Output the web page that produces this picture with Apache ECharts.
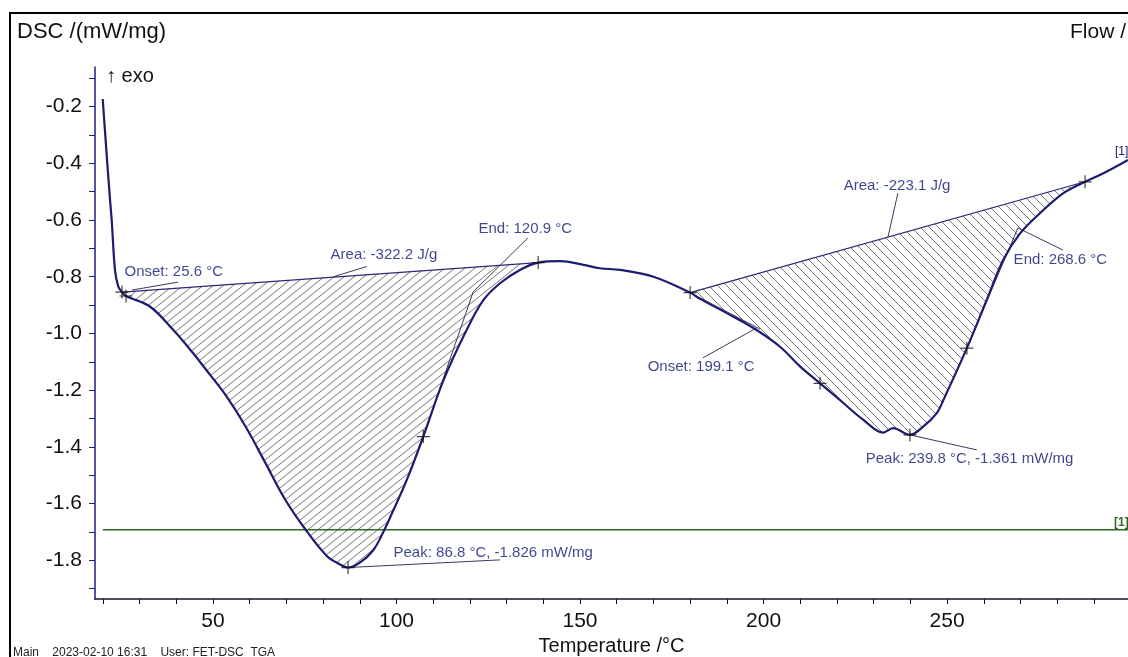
<!DOCTYPE html>
<html>
<head>
<meta charset="utf-8">
<title>DSC</title>
<script src="https://cdn.jsdelivr.net/npm/echarts@6.0.0/dist/echarts.min.js"></script>
<style>
html, body { margin: 0; padding: 0; background: #fff; }
#chart { width: 1128px; height: 657px; }
</style>
</head>
<body>
<div id="chart"></div>
<script>
// DSC signal: temperature (°C) and DSC (mW/mg)
var dscTemp = [19.95, 21.2, 21.95, 22.4, 23.3, 24.2, 25.2, 26.3, 32.8, 39.2, 44.6, 47.8, 53.3, 58.7, 64.2, 69.6,
	75.1, 81.0, 84.6, 86.8, 90.1, 93.7, 96.4, 99.1, 102.8, 107.3, 112.8, 119.1, 123.7, 128.2, 133.6, 138.6,
	144.6, 150.9, 155.4, 160.9, 170.0, 180.0, 182.7, 191.8, 198.1, 204.5, 210.0, 215.4, 220.8, 227.2, 232.6,
	235.3, 239.9, 243.5, 247.2, 249.0, 255.4, 260.8, 265.3, 269.9, 275.3, 281.7, 287.6, 292.6, 299.3];
var dscValue = [-0.173, -0.400, -0.529, -0.600, -0.777, -0.835, -0.854, -0.868, -0.905, -0.988, -1.070, -1.123, -1.215, -1.325, -1.455, -1.585,
	-1.690, -1.785, -1.815, -1.826, -1.808, -1.764, -1.701, -1.625, -1.517, -1.364, -1.165, -0.988, -0.882, -0.823, -0.776, -0.750,
	-0.745, -0.758, -0.770, -0.776, -0.800, -0.856, -0.878, -0.941, -0.988, -1.047, -1.117, -1.176, -1.235, -1.305, -1.350,
	-1.334, -1.358, -1.329, -1.281, -1.235, -1.052, -0.882, -0.741, -0.647, -0.576, -0.505, -0.465, -0.435, -0.388];

// flow signal (drawn flat)
var flowTemp = [20, 299.3];
var flowValue = [-1.693, -1.693];

// integration ranges (start T, end T) of the two peaks
var peakStart = [25.2, 180.0];
var peakEnd = [138.6, 287.6];

// evaluation marks "+"
var crossTemp = [25.2, 26.3, 86.8, 107.3, 138.6, 180.0, 215.4, 239.9, 255.4, 287.6];
var crossValue = [-0.854, -0.868, -1.826, -1.364, -0.750, -0.856, -1.176, -1.358, -1.052, -0.465];

// annotation texts and where they sit (T, DSC of the left/middle of the text)
var labelText = ['Onset: 25.6 °C', 'Area: -322.2 J/g', 'End: 120.9 °C', 'Peak: 86.8 °C, -1.826 mW/mg',
	'Onset: 199.1 °C', 'Area: -223.1 J/g', 'End: 268.6 °C', 'Peak: 239.8 °C, -1.361 mW/mg'];
var labelTemp = [25.75, 81.9, 122.2, 99.05, 168.3, 221.7, 268.0, 227.7];
var labelValue = [-0.783, -0.723, -0.631, -1.775, -1.118, -0.480, -0.741, -1.443];

// leader + tangent lines: [T1, V1, T2, V2]
var guideLines = [
	[40.5, -0.819, 27.9, -0.847],
	[91.9, -0.764, 82.8, -0.800],
	[120.9, -0.853, 135.8, -0.663],
	[107.3, -1.364, 120.9, -0.853],
	[86.8, -1.826, 128.2, -1.799],
	[183.5, -1.086, 198.2, -0.980],
	[180.0, -0.856, 199.1, -0.985],
	[236.6, -0.505, 233.9, -0.660],
	[255.4, -1.052, 269.3, -0.628],
	[269.3, -0.628, 281.6, -0.706],
	[239.9, -1.358, 258.1, -1.411]
];
// baselines of the integrations
var baseLines = [
	[25.2, -0.854, 138.6, -0.750],
	[180.0, -0.856, 287.6, -0.465]
];

// axis ticks and labels
var xTickValues = [20, 30, 40, 50, 60, 70, 80, 90, 100, 110, 120, 130, 140, 150, 160, 170, 180, 190, 200, 210, 220, 230, 240, 250, 260, 270, 280, 290];
var xLabelValues = [50, 100, 150, 200, 250];
var yTickValues = [-1.9, -1.8, -1.7, -1.6, -1.5, -1.4, -1.3, -1.2, -1.1, -1.0, -0.9, -0.8, -0.7, -0.6, -0.5, -0.4, -0.3, -0.2, -0.1];
var yLabelValues = [-1.8, -1.6, -1.4, -1.2, -1.0, -0.8, -0.6, -0.4, -0.2];

var FONT = '"Liberation Sans", Arial, sans-serif';
var NAVY = '#1c1c70';
var TXT = '#0e1672';

function zip(a, b) {
	var res = [];
	for (var i = 0; i < a.length; i++) res.push([a[i], b[i]]);
	return res;
}
function segs(list) {
	return list.map(function (s) { return { coords: [[s[0], s[1]], [s[2], s[3]]] }; });
}

// hatch pattern, dir 1 = '/', -1 = '\'
function hatch(w, h, dir) {
	var c = document.createElement('canvas');
	c.width = w; c.height = h;
	var g = c.getContext('2d');
	g.strokeStyle = '#555';
	g.lineWidth = 0.8;
	g.beginPath();
	[-w, 0, w].forEach(function (o) {
		if (dir > 0) {
			g.moveTo(o - w, 2 * h); g.lineTo(o + 2 * w, -h);
		} else {
			g.moveTo(o - w, -h); g.lineTo(o + 2 * w, 2 * h);
		}
	});
	g.stroke();
	return c;
}
var patterns = [hatch(10, 8, 1), hatch(9, 9, -1)];

var curve = zip(dscTemp, dscValue);

var chart = echarts.init(document.getElementById('chart'));

var option = {
	backgroundColor: '#fff',
	animation: false,
	grid: { left: 95, right: 0, top: 67, bottom: 58, containLabel: false, outerBoundsMode: 'none' },
	xAxis: {
		type: 'value',
		min: 17.85,
		max: 299.3,
		name: 'Temperature /°C',
		nameLocation: 'middle',
		nameGap: 35,
		nameTextStyle: { fontSize: 20, color: '#111', fontFamily: FONT },
		axisLine: { lineStyle: { color: '#101030', width: 1.5 } },
		axisTick: { length: 5, customValues: xTickValues, lineStyle: { color: '#101030' } },
		axisLabel: { customValues: xLabelValues, fontSize: 21, color: '#111', fontFamily: FONT, margin: 12 },
		splitLine: { show: false }
	},
	yAxis: {
		type: 'value',
		min: -1.937,
		max: -0.06,
		axisLine: { show: true, lineStyle: { color: '#1f1f80', width: 1.5 } },
		axisTick: { show: true, length: 6, customValues: yTickValues, lineStyle: { color: '#1f1f80' } },
		axisLabel: {
			customValues: yLabelValues, fontSize: 21, color: '#111', fontFamily: FONT, margin: 13,
			formatter: function (v) { return v.toFixed(1); }
		},
		splitLine: { show: false }
	},
	graphic: [
		{ type: 'rect', shape: { x: 10, y: 13, width: 1140, height: 680 }, style: { fill: 'none', stroke: '#000', lineWidth: 2 }, z: 100 },
		{ type: 'text', x: 17, y: 32, style: { text: 'DSC /(mW/mg)', font: '22px ' + FONT, fill: '#111', verticalAlign: 'middle' } },
		{ type: 'text', x: 1070, y: 32, style: { text: 'Flow /', font: '21px ' + FONT, fill: '#111', verticalAlign: 'middle' } },
		{ type: 'text', x: 106, y: 76, style: { text: '\u2191 exo', font: '20px ' + FONT, fill: '#111', verticalAlign: 'middle' } },
		{ type: 'text', x: 1115, y: 152, style: { text: '[1]', font: '12px ' + FONT, fill: TXT, verticalAlign: 'middle' } },
		{ type: 'text', x: 1114, y: 523, style: { text: '[1]', font: 'bold 12px ' + FONT, fill: '#2d6a1e', verticalAlign: 'middle' } },
		{ type: 'text', x: 13, y: 647, style: { text: 'Main    2023-02-10 16:31    User: FET-DSC_TGA', font: '12px ' + FONT, fill: '#222', verticalAlign: 'top' } }
	],
	series: [
		{
			// hatched peak areas between curve and baseline
			type: 'custom',
			z: 1,
			silent: true,
			encode: { x: [0, 1], y: 2 },
			data: [[peakStart[0], peakEnd[0], -0.854], [peakStart[1], peakEnd[1], -0.856]],
			renderItem: function (params, api) {
				var a = api.value(0), b = api.value(1);
				var pts = [];
				for (var i = 0; i < curve.length; i++) {
					if (curve[i][0] >= a - 1e-6 && curve[i][0] <= b + 1e-6) pts.push(api.coord(curve[i]));
				}
				return {
					type: 'polygon',
					shape: { points: pts },
					style: { fill: { image: patterns[params.dataIndex], repeat: 'repeat' }, stroke: null }
				};
			}
		},
		{
			type: 'line',
			name: 'Flow',
			data: zip(flowTemp, flowValue),
			showSymbol: false,
			lineStyle: { color: '#2d6a1e', width: 1.5 },
			z: 2
		},
		{
			type: 'lines',
			coordinateSystem: 'cartesian2d',
			data: segs(baseLines),
			lineStyle: { color: '#2a2a72', width: 1.2, opacity: 1, curveness: 0 },
			silent: true,
			z: 3
		},
		{
			type: 'lines',
			coordinateSystem: 'cartesian2d',
			data: segs(guideLines),
			lineStyle: { color: '#3a3a5e', width: 1, opacity: 1, curveness: 0 },
			silent: true,
			z: 3
		},
		{
			type: 'line',
			name: 'DSC',
			data: curve,
			showSymbol: false,
			smooth: 0.35,
			lineStyle: { color: NAVY, width: 2.2 },
			z: 5
		},
		{
			type: 'scatter',
			data: zip(crossTemp, crossValue),
			symbol: 'path://M0,7L14,7M7,0L7,14',
			symbolSize: 13,
			itemStyle: { color: 'rgba(0,0,0,0)', borderColor: '#111', borderWidth: 1.2 },
			z: 6
		},
		{
			type: 'scatter',
			data: labelTemp.map(function (t, i) { return [t, labelValue[i], labelText[i]]; }),
			symbolSize: 1,
			itemStyle: { color: 'rgba(0,0,0,0)' },
			label: {
				show: true,
				position: 'right',
				distance: 0,
				color: TXT,
				fontSize: 15,
				fontFamily: FONT,
				formatter: function (p) { return p.data[2]; }
			},
			z: 7
		}
	]
};
chart.setOption(option);
</script>
</body>
</html>
